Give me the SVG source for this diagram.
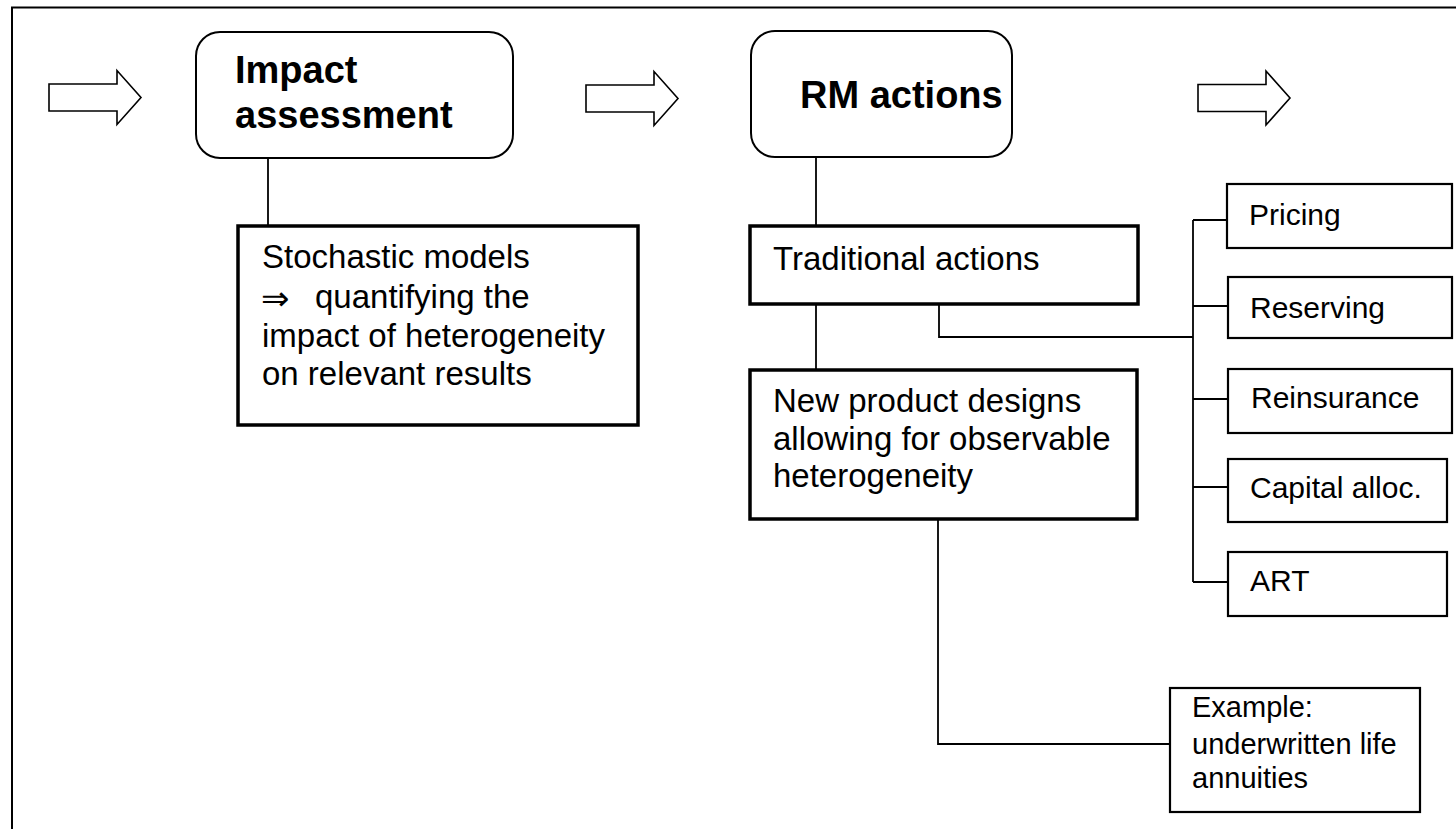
<svg xmlns="http://www.w3.org/2000/svg" width="1456" height="829" viewBox="0 0 1456 829">
  <style>
    text { font-family: "Liberation Sans", Arial, sans-serif; fill: #000; }
    .title { font-size: 38px; font-weight: bold; }
    .body { font-size: 33px; }
    .small { font-size: 30px; }
    .ex { font-size: 29px; }
    .round { fill: #fff; stroke: #000; stroke-width: 2; }
    .thick { fill: #fff; stroke: #000; stroke-width: 3.5; }
    .thin { fill: #fff; stroke: #000; stroke-width: 2.2; }
    .flow { fill: #fff; stroke: #000; stroke-width: 1.6; stroke-linejoin: miter; }
    .conn { fill: none; stroke: #000; stroke-width: 1.8; }
    .sym { font-family: "DejaVu Sans", sans-serif; font-size: 34px; }
  </style>
  <defs>
    <!-- hollow block arrow, origin at shaft left/centre -->
    <path id="blockArrow" d="M0,-13.5 H68 V-27 L92,0 L68,27 V13.5 H0 Z"/>
  </defs>

  <!-- frame -->
  <rect x="12" y="7.5" width="1470" height="850" fill="#fff" stroke="#000" stroke-width="2"/>

  <!-- flow arrows -->
  <g id="flow-arrows">
    <use href="#blockArrow" class="flow" x="49" y="97.5"/>
    <use href="#blockArrow" class="flow" x="586" y="98.5"/>
    <use href="#blockArrow" class="flow" x="1198" y="98"/>
  </g>

  <!-- connectors -->
  <g id="connectors">
    <path class="conn" d="M268,158 V226"/>
    <path class="conn" d="M816,157 V226"/>
    <path class="conn" d="M816,304 V370"/>
    <path class="conn" d="M939,304 V337 H1193"/>
    <path class="conn" d="M1193,220 V582"/>
    <path class="conn" d="M1193,220 H1228"/>
    <path class="conn" d="M1193,306 H1228"/>
    <path class="conn" d="M1193,399 H1228"/>
    <path class="conn" d="M1193,487 H1228"/>
    <path class="conn" d="M1193,582 H1228"/>
    <path class="conn" d="M938,519 V744 H1170"/>
  </g>

  <g id="impact">
    <rect class="round" x="196" y="32" width="317" height="126" rx="24"/>
    <text class="title" x="235" y="83">Impact</text>
    <text class="title" x="235" y="128">assessment</text>
  </g>

  <g id="rm-actions">
    <rect class="round" x="751" y="31" width="261" height="126" rx="24"/>
    <text class="title" x="800" y="108">RM actions</text>
  </g>

  <g id="stochastic">
    <rect class="thick" x="238" y="226" width="400" height="199"/>
    <text class="body" x="262" y="268">Stochastic models</text>
    <text class="sym" x="261" y="310">⇒</text>
    <text class="body" x="315" y="308">quantifying the</text>
    <text class="body" x="262" y="347">impact of heterogeneity</text>
    <text class="body" x="262" y="385">on relevant results</text>
  </g>

  <g id="traditional">
    <rect class="thick" x="750" y="226" width="388" height="78"/>
    <text class="body" x="773" y="270">Traditional actions</text>
  </g>

  <g id="new-product">
    <rect class="thick" x="750" y="370" width="387" height="149"/>
    <text class="body" x="773" y="412">New product designs</text>
    <text class="body" x="773" y="450">allowing for observable</text>
    <text class="body" x="773" y="487">heterogeneity</text>
  </g>

  <g id="pricing">
    <rect class="thin" x="1227" y="184" width="225" height="64"/>
    <text class="small" x="1249" y="225">Pricing</text>
  </g>
  <g id="reserving">
    <rect class="thin" x="1228" y="277" width="224" height="61"/>
    <text class="small" x="1250" y="318">Reserving</text>
  </g>
  <g id="reinsurance">
    <rect class="thin" x="1228" y="369" width="224" height="64"/>
    <text class="small" x="1251" y="408">Reinsurance</text>
  </g>
  <g id="capital">
    <rect class="thin" x="1228" y="459" width="219" height="63"/>
    <text class="small" x="1250" y="498">Capital alloc.</text>
  </g>
  <g id="art">
    <rect class="thin" x="1228" y="552" width="219" height="64"/>
    <text class="small" x="1250" y="591">ART</text>
  </g>

  <g id="example">
    <rect class="thin" x="1170" y="688" width="250" height="124"/>
    <text class="ex" x="1192" y="717">Example:</text>
    <text class="ex" x="1192" y="754">underwritten life</text>
    <text class="ex" x="1192" y="788">annuities</text>
  </g>
</svg>
